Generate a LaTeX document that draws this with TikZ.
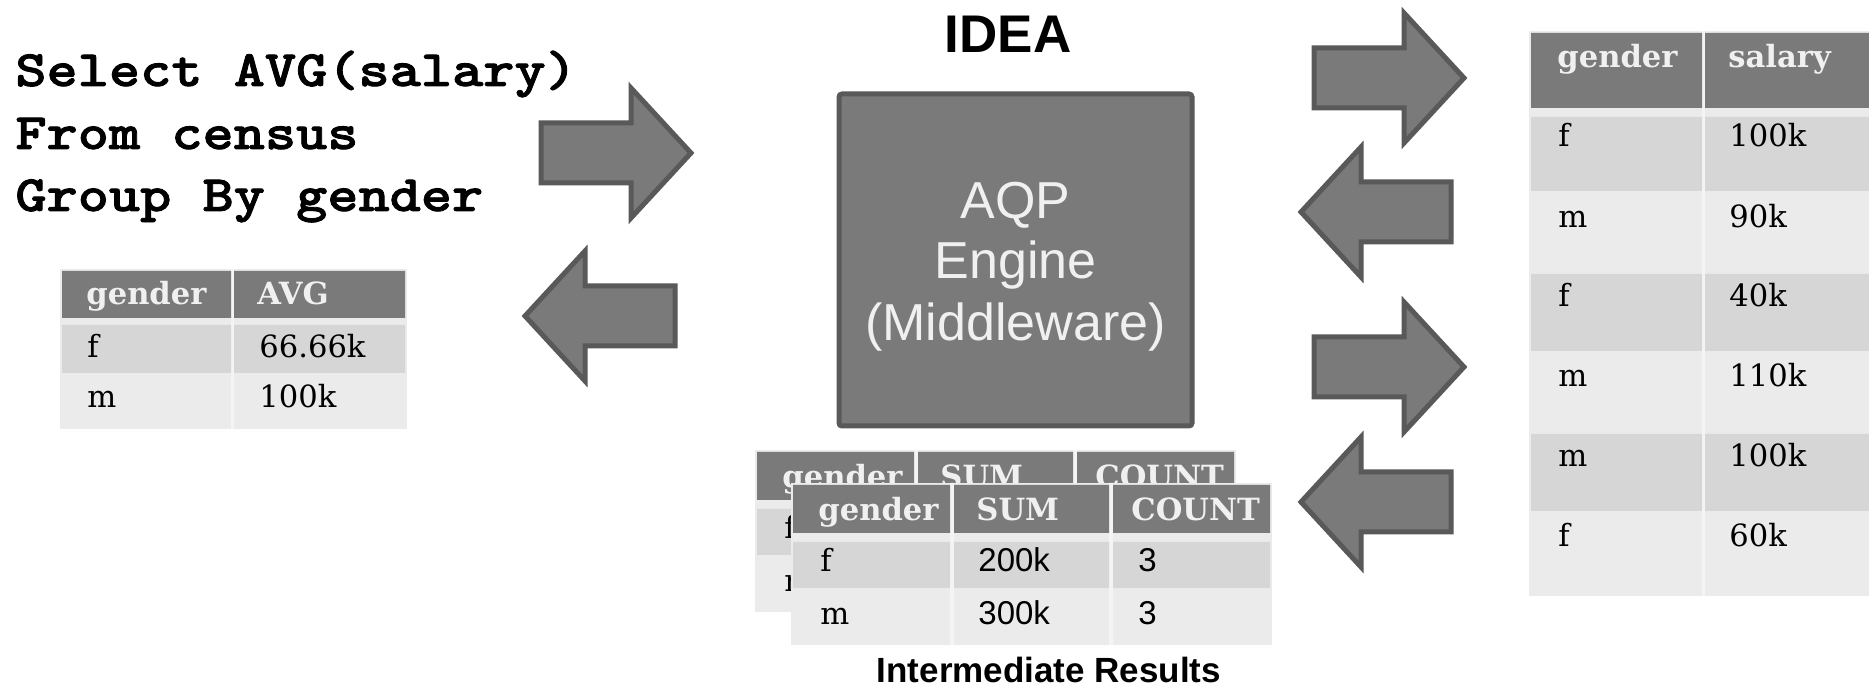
\documentclass[tikz,border=0pt]{standalone}
\usepackage{fontspec}
\setmainfont{Liberation Sans}
\newfontfamily\codefont{lmmonolt10-bold.otf}[FakeStretch=1.165, FakeBold=1.6]
\newfontfamily\slabfont{DejaVu Serif}

\definecolor{cellhead}{HTML}{7A7A7A}
\definecolor{celldark}{HTML}{D6D6D6}
\definecolor{celllight}{HTML}{EBEBEB}
\definecolor{cellrule}{HTML}{F4F4F4}
\definecolor{edgegray}{HTML}{595959}
\definecolor{headtext}{HTML}{F0F0F0}

\tikzset{
  blockarrow/.style={fill=cellhead, draw=edgegray, line width=2.5pt, line join=miter},
  rarrow/.pic={\path[blockarrow] (0,-30) -- (90,-30) -- (90,-65) -- (150,0) -- (90,65) -- (90,30) -- (0,30) -- cycle;},
  larrow/.pic={\path[blockarrow] (0,-30) -- (-90,-30) -- (-90,-65) -- (-150,0) -- (-90,65) -- (-90,30) -- (0,30) -- cycle;},
  enginebox/.style={fill=cellhead, draw=edgegray, line width=2.5pt, rounded corners=1.5pt, inner sep=0pt},
  querytext/.style={anchor=base west, inner sep=0pt, font=\codefont\fontsize{25.5}{30}\selectfont},
  enginetext/.style={anchor=base, inner sep=0pt, text=headtext, font=\fontsize{26}{31}\selectfont},
  titletext/.style={anchor=base, inner sep=0pt, font=\bfseries\fontsize{26.5}{31}\selectfont},
  captiontext/.style={anchor=base, inner sep=0pt, font=\bfseries\fontsize{17.5}{21}\selectfont},
  headcell/.style={anchor=base west, inner sep=0pt, text=headtext, font=\slabfont\bfseries\fontsize{15.3}{18}\selectfont},
  bodycell/.style={anchor=base west, inner sep=0pt, text=black, font=\slabfont\fontsize{15.3}{18}\selectfont},
  sanscell/.style={anchor=base west, inner sep=0pt, text=black, font=\fontsize{16.5}{20}\selectfont},
}

% one partial-aggregate table: gender | SUM | COUNT
\newcommand\aggtable[1]{%
  \fill[celllight] (791,483) rectangle (1272,645);
  \fill[cellrule] (950,483) rectangle (954,645) (1109,483) rectangle (1113,645);
  \fill[cellhead] (793,485) rectangle (950,533) (954,485) rectangle (1109,533) (1113,485) rectangle (1270,533);
  \fill[celldark] (793,542) rectangle (950,588) (954,542) rectangle (1109,588) (1113,542) rectangle (1270,588);
  \node[headcell] (#1-h1) at (818,521) {gender};
  \node[headcell] (#1-h2) at (976,521) {SUM};
  \node[headcell] (#1-h3) at (1131,521) {COUNT};
  \node[bodycell] (#1-a1) at (820,572) {f};
  \node[sanscell] (#1-a2) at (978,572) {200k};
  \node[sanscell] (#1-a3) at (1138,572) {3};
  \node[bodycell] (#1-b1) at (820,625) {m};
  \node[sanscell] (#1-b2) at (978,625) {300k};
  \node[sanscell] (#1-b3) at (1138,625) {3};
}

\begin{document}
\begin{tikzpicture}[x=0.5pt, y=-0.5pt]
\useasboundingbox (0,0) rectangle (1869,688);
\clip (0,0) rectangle (1869,688);
\fill[white] (0,0) rectangle (1869,688);

% query text
\node[querytext] (q1) at (15,86) {Select AVG(salary)};
\node[querytext] (q2) at (15,149) {From census};
\node[querytext] (q3) at (15,211) {Group By gender};

% final answer table
\fill[celllight] (60,269) rectangle (407,429);
\fill[cellrule] (231,269) rectangle (234,429);
\fill[cellhead] (62,271) rectangle (231,318) (234,271) rectangle (405,318);
\fill[celldark] (62,325) rectangle (231,373) (234,325) rectangle (405,373);
\node[headcell] (ans-h1) at (86,305) {gender};
\node[headcell] (ans-h2) at (257,305) {AVG};
\node[bodycell] (ans-a1) at (87,358) {f};
\node[bodycell] (ans-a2) at (259,358) {66.66k};
\node[bodycell] (ans-b1) at (87,408) {m};
\node[bodycell] (ans-b2) at (259,408) {100k};

% arrows between query, engine and answer
\pic at (541,153) {rarrow};
\pic at (675,316) {larrow};

% middleware
\node[titletext] (idea) at (1008,53) {IDEA};
\node[enginebox, minimum width=176.5pt, minimum height=166pt] (engine) at (1015.5,260) {};
\node[enginetext] (eng1) at (1015.5,219) {AQP};
\node[enginetext] (eng2) at (1015.5,279) {Engine};
\node[enginetext] (eng3) at (1015.5,341) {(Middleware)};

% stacked intermediate results
\begin{scope}[shift={(-36,-33)}]
  \aggtable{back}
\end{scope}
\aggtable{front}
\node[captiontext] (caption) at (1049,683) {Intermediate Results};

% arrows between engine and database
\pic at (1314,78) {rarrow};
\pic at (1451,212) {larrow};
\pic at (1314,367) {rarrow};
\pic at (1451,502) {larrow};

% census table
\fill[celllight] (1529,31) rectangle (1880,596);
\fill[cellrule] (1702,31) rectangle (1705,596);
\fill[cellhead] (1531,33) rectangle (1702,108) (1705,33) rectangle (1880,108);
\foreach \top/\bot in {117/191, 274/351, 434/511}
  \fill[celldark] (1531,\top) rectangle (1702,\bot) (1705,\top) rectangle (1880,\bot);
\node[headcell] (db-h1) at (1557,68) {gender};
\node[headcell] (db-h2) at (1728,68) {salary};
\foreach \g/\s/\b [count=\i] in {f/100k/147, m/90k/228, f/40k/307, m/110k/387, m/100k/467, f/60k/547} {
  \node[bodycell] (db-g\i) at (1558,\b) {\g};
  \node[bodycell] (db-s\i) at (1729,\b) {\s};
}
\end{tikzpicture}
\end{document}
